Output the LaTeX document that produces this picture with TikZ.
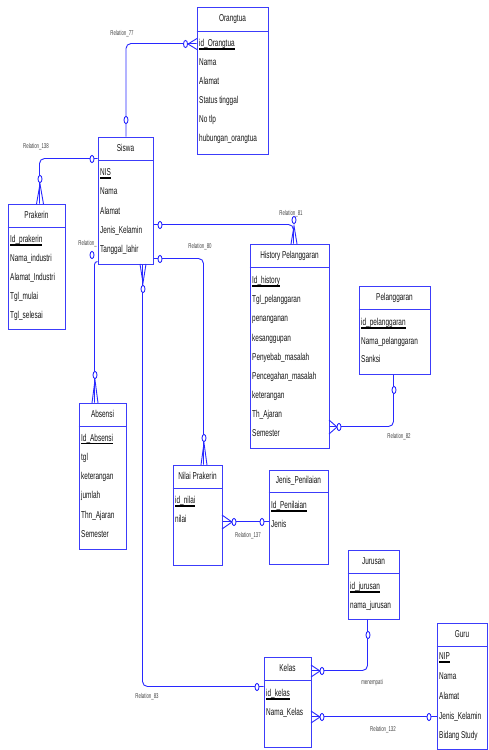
\documentclass[tikz,border=0pt]{standalone}
\usepackage{fontspec}
\setmainfont{Liberation Sans}[FakeStretch=0.645]
\newfontfamily\lblfont{Liberation Sans}[FakeStretch=0.62]
\usetikzlibrary{fit,calc}
\definecolor{erblue}{RGB}{40,40,255}
\definecolor{boxblue}{RGB}{60,60,250}
\definecolor{ertext}{RGB}{20,20,20}
\newcommand\pk[1]{\setbox0\hbox{#1}\rlap{\color{black}\rule[-3pt]{\wd0}{1.5pt}}\box0}
\newcommand\rowfont{\fontsize{10}{12}\selectfont}
\newcommand\lblsize{\lblfont\fontsize{7}{8}\selectfont}
\tikzset{
  rel/.style={draw=erblue, line width=0.9pt},
  ebox/.style={draw=boxblue, line width=1pt, fill=white, inner sep=0pt},
  etitle/.style={font=\rowfont, text=ertext, inner sep=0pt, text height=7pt, text depth=2pt},
  erow/.style={font=\rowfont, text=ertext, inner sep=0pt, anchor=base west},
  rlabel/.style={font=\lblsize, text=ertext!80, inner sep=0pt},
  ocirc/.style={draw=erblue, line width=0.9pt, fill=white}
}
\newcommand\entity[7]{%
  \node[ebox, fit={(#2,#3) (#4,#5)}] (#1) {};
  \draw[draw=boxblue, line width=1pt] ([yshift=-#6pt]#1.north west) -- ([yshift=-#6pt]#1.north east);
  \node[etitle] (#1-t) at ([yshift=-#6*0.5pt]#1.north) {#7};
}
\newcommand\rows[5]{%
  \foreach \ritem [count=\i] in {#5} {
    \node[erow] (#1-\i) at (#2, {#3+3.7+(\i-1)*#4}) {\ritem};
  }
}
\newcommand\zcirc[2]{\draw[ocirc] (#1,#2) ellipse [x radius=2pt, y radius=3.6pt];}
\newcommand\crowv[4]{\draw[rel] (#1-#4,#3) -- (#1,#2) -- (#1+#4,#3);}
\newcommand\crowh[4]{\draw[rel] (#3,#2-#4) -- (#1,#2) -- (#3,#2+#4);}
\begin{document}
\begin{tikzpicture}[x=1pt,y=-1pt]
\useasboundingbox (0,0) rectangle (488,750);
\clip (0,0) rectangle (488,750);
\fill[white] (0,0) rectangle (488,750);

% entities
\entity{orangtua}{197}{7}{268}{154}{25}{Orangtua}
\rows{orangtua}{199}{43}{19}{\pk{id\_Orangtua},Nama,Alamat,Status tinggal,No tlp,hubungan\_orangtua}

\entity{siswa}{98}{137}{153}{264}{24}{Siswa}
\rows{siswa}{100}{172}{19.2}{\pk{NIS},Nama,Alamat,Jenis\_Kelamin,Tanggal\_lahir}

\entity{prakerin}{8}{204}{65}{329}{24}{Prakerin}
\rows{prakerin}{10}{239}{19}{\pk{Id\_prakerin},Nama\_industri,Alamat\_Industri,Tgl\_mulai,Tgl\_selesai}

\entity{history}{250}{244}{329}{448}{24}{History Pelanggaran}
\rows{history}{252}{280}{19.1}{\pk{Id\_history},Tgl\_pelanggaran,penanganan,kesanggupan,Penyebab\_masalah,Pencegahan\_masalah,keterangan,Th\_Ajaran,Semester}

\entity{pelanggaran}{359}{286}{430}{374}{24}{Pelanggaran}
\rows{pelanggaran}{361}{322}{18.5}{\pk{id\_pelanggaran},Nama\_pelanggaran,Sanksi}

\entity{absensi}{79}{403}{126}{549}{24}{Absensi}
\rows{absensi}{81}{437.5}{19.2}{\pk{Id\_Absensi},tgl,keterangan,jumlah,Thn\_Ajaran,Semester}

\entity{nilai}{173}{465}{222}{565}{24}{Nilai Prakerin}
\rows{nilai}{175}{500}{19}{\pk{id\_nilai},nilai}

\entity{jenis}{269}{470}{328}{564}{23}{Jenis\_Penilaian}
\rows{jenis}{271}{505}{18.5}{\pk{Id\_Penilaian},Jenis}

\entity{jurusan}{348}{550}{399}{619}{24}{Jurusan}
\rows{jurusan}{350}{586}{18.5}{\pk{id\_jurusan},nama\_jurusan}

\entity{kelas}{264}{657}{311}{747}{24}{Kelas}
\rows{kelas}{266}{693}{19}{\pk{id\_kelas},Nama\_Kelas}

\entity{guru}{437}{623}{487}{749}{24}{Guru}
\rows{guru}{439}{656}{19.8}{\pk{NIP},Nama,Alamat,Jenis\_Kelamin,Bidang Study}

% connectors
\draw[rel, rounded corners=5pt] ([xshift=0.5pt]siswa.north) |- ([yshift=-37pt]orangtua.north west);
\draw[rel, rounded corners=5pt] ([yshift=-22pt]siswa.north west) -| ([xshift=32pt]prakerin.north west);
\draw[rel, rounded corners=5pt] ([yshift=-88pt]siswa.north east) -| ([xshift=44pt]history.north west);
\draw[rel, rounded corners=5pt] ([yshift=-122pt]siswa.north east) -| ([xshift=31pt]nilai.north west);
\draw[rel, rounded corners=5pt] ([xshift=45pt]siswa.south west) |- ([yshift=-30pt]kelas.north west);
\draw[rel, rounded corners=3pt] ([yshift=-125pt]siswa.north west) -| ([xshift=16pt]absensi.north west);
\draw[rel, rounded corners=5pt] ([xshift=35pt]pelanggaran.south west) |- ([yshift=-183pt]history.north east);
\draw[rel] ([yshift=-57pt]nilai.north east) -- ([yshift=-52pt]jenis.north west);
\draw[rel, rounded corners=5pt] ([xshift=20pt]jurusan.south west) |- ([yshift=-14pt]kelas.north east);
\draw[rel] ([yshift=-60pt]kelas.north east) -- ([yshift=-94pt]guru.north west);

% crow's feet
\crowh{188}{44}{197}{5.5}
\crowv{40}{184}{204}{3.5}
\crowv{294}{226}{244}{3}
\crowv{204}{443}{465}{3}
\crowv{143}{283}{264}{3}
\crowv{95}{380}{403}{3}
\crowh{337}{427}{329}{7}
\crowh{232}{522}{222}{7}
\crowh{320}{671}{311}{6}
\crowh{320}{717}{311}{6}

% optional circles
\zcirc{126}{120}
\zcirc{185.5}{44}
\zcirc{92}{159}
\zcirc{40}{179}
\zcirc{160}{225}
\zcirc{294}{220}
\zcirc{160}{259}
\zcirc{204}{438}
\zcirc{143}{289}
\zcirc{257}{687}
\zcirc{92}{255}
\zcirc{95}{375}
\zcirc{394}{390}
\zcirc{339}{427}
\zcirc{234}{522}
\zcirc{262}{522}
\zcirc{368}{635}
\zcirc{322}{671}
\zcirc{322}{717}
\zcirc{429}{717}

% labels
\node[rlabel] (l77) at (122,34) {Relation\_77};
\node[rlabel] (l138) at (36,147) {Relation\_138};
\node[rlabel] (l81) at (291,214) {Relation\_81};
\node[rlabel] (l80) at (200,247) {Relation\_80};
\node[rlabel, anchor=east] (lrel) at (97,244) {Relation\_};
\node[rlabel] (l82) at (399,437) {Relation\_82};
\node[rlabel] (l137) at (248,536) {Relation\_137};
\node[rlabel] (lmen) at (372,683) {menempati};
\node[rlabel] (l132) at (383,730) {Relation\_132};
\node[rlabel] (l83) at (147,697) {Relation\_83};
\end{tikzpicture}
\end{document}
